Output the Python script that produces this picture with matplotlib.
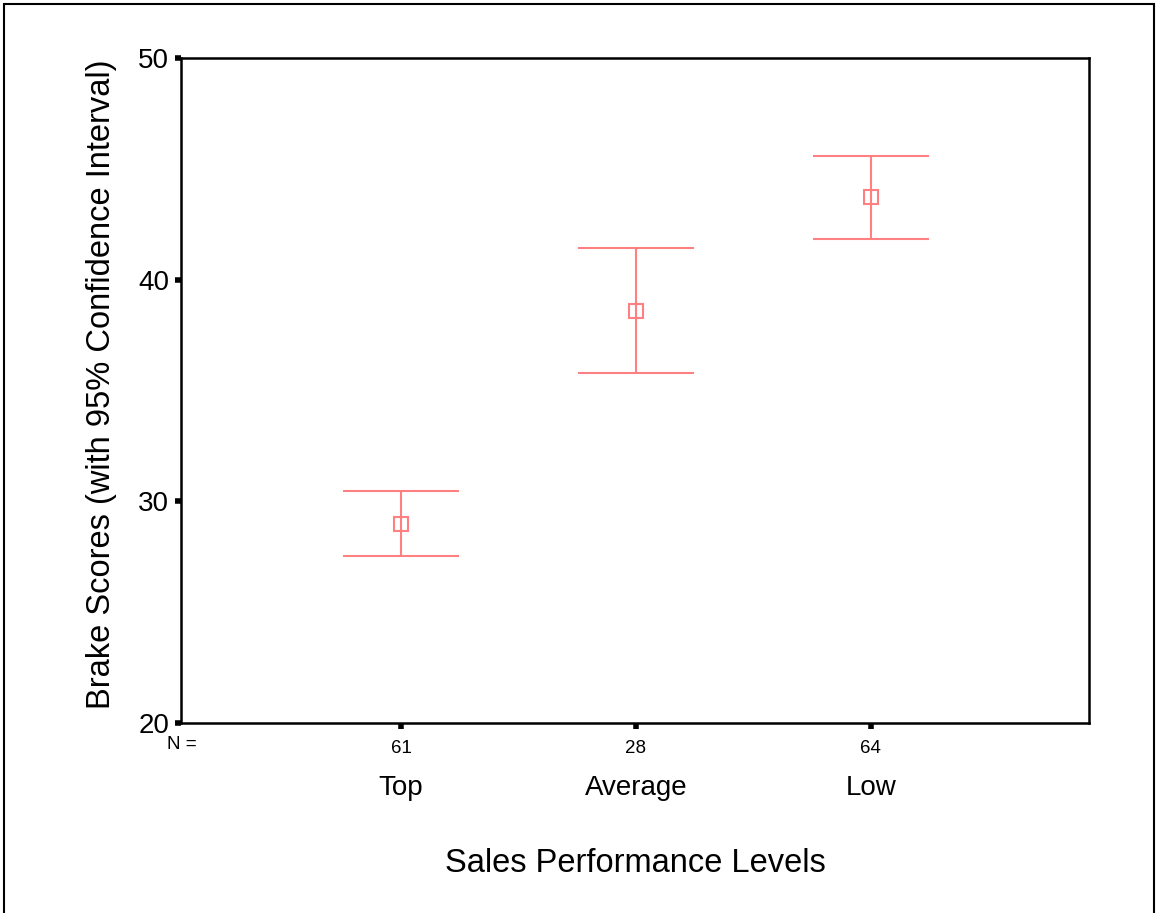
import matplotlib.pyplot as plt
from matplotlib.patches import Rectangle
import matplotlib.transforms as mtransforms

plt.rcParams['font.family'] = ['Liberation Sans', 'DejaVu Sans']

categories = ['Top', 'Average', 'Low']
counts = [61, 28, 64]
means = [28.98, 38.58, 43.73]
lower = [27.53, 35.79, 41.83]
upper = [30.46, 41.43, 45.58]

color = '#ff8080'
xpos = [1, 2, 3]

fig = plt.figure(figsize=(11.56, 9.13), dpi=100)
ax = fig.add_axes([0.1566, 0.2081, 0.7854, 0.7284])

yerr = [[m - lo for m, lo in zip(means, lower)], [hi - m for m, hi in zip(means, upper)]]
ax.errorbar(xpos, means, yerr=yerr, fmt='s', mfc='none', mec=color, mew=1.5, ms=10.5,
            ecolor=color, elinewidth=1.5, capsize=42, capthick=1.5)

ax.set_xlim(0.064, 3.928)
ax.set_ylim(20, 50)
ax.set_yticks([20, 30, 40, 50])
ax.set_xticks(xpos)
ax.set_xticklabels([str(c) for c in counts], fontsize=13.5)
ax.tick_params(axis='y', labelsize=20, direction='out', length=4, width=4, pad=4.5)
ax.tick_params(axis='x', direction='out', length=4, width=4, pad=8)
for s in ax.spines.values():
    s.set_linewidth(1.8)

trans = mtransforms.blended_transform_factory(ax.transData, ax.transAxes)
ax.text(0.064 + 0.005, -0.033, 'N =', transform=trans, ha='center', va='center', fontsize=13.5)
for x, c in zip(xpos, categories):
    ax.text(x, -0.097, c, transform=trans, ha='center', va='center', fontsize=20)

ax.set_xlabel('Sales Performance Levels', fontsize=23.5, labelpad=66)
ax.set_ylabel('Brake Scores (with 95% Confidence Interval)', fontsize=23.5)
ax.yaxis.set_label_coords(-0.071, 0.51)

fig.patches.append(Rectangle((4 / 1156, -0.05), 1150 / 1156, 1.05 - 4 / 913,
                             transform=fig.transFigure, fill=False, lw=1.5, ec='black'))

fig.savefig('out.png', dpi=100)
